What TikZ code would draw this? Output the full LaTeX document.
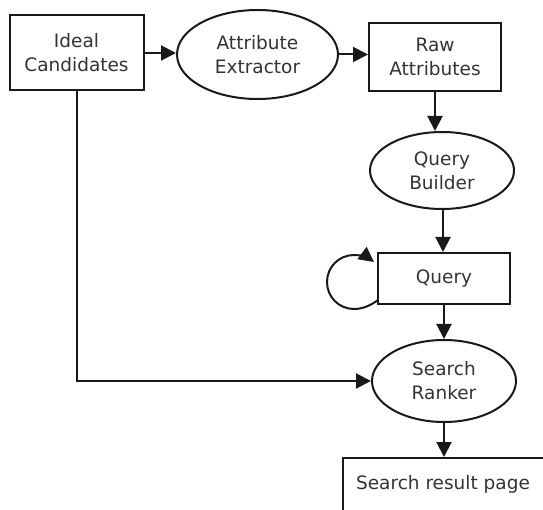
\documentclass[tikz,border=0pt]{standalone}
\usepackage{fontspec}
\setmainfont{DejaVu Sans}
\usetikzlibrary{shapes.geometric,arrows.meta}
\begin{document}
\begin{tikzpicture}[x=1pt,y=-1pt,line width=2pt,draw=black!90,
  lbl/.style={font=\fontsize{18.5}{24}\selectfont,text=black!80,align=center},
  box/.style={lbl,draw,rectangle,inner sep=0pt},
  oval/.style={lbl,draw,ellipse,inner sep=0pt},
  arr/.style={-{Triangle[length=15pt,width=15pt]}}]
\useasboundingbox (0,0) rectangle (543,510);
\clip (0,0) rectangle (543,510);
\node[box,minimum width=134pt,minimum height=75pt] (ic) at (76.5,52.5) {Ideal\\Candidates};
\node[oval,minimum width=161pt,minimum height=89pt] (ae) at (257.5,54.5) {Attribute\\Extractor};
\node[box,minimum width=132pt,minimum height=68pt] (ra) at (435,57) {Raw\\Attributes};
\node[oval,minimum width=144pt,minimum height=77pt] (qb) at (442,170.5) {Query\\Builder};
\node[box,minimum width=132pt,minimum height=51pt] (q) at (444,278.5) {Query};
\node[oval,minimum width=144pt,minimum height=82pt] (sr) at (444,381) {Search\\Ranker};
\node[box,overlay,anchor=north west,minimum width=240pt,minimum height=80pt] (srp) at (342,457) {};
\node[lbl] (srpt) at (443,484) {Search result page};
\coordinate (ls) at (378,300);
\coordinate (le) at (374,262);
\draw[arr] (ic.east |- 0,53) -- (ae.west |- 0,53);
\draw[arr] (ae.east) -- (ra.west |- ae.east);
\draw[arr] (ra.south) -- (ra.south |- qb.north);
\draw[arr] (qb.south -| 443,0) -- (q.north -| 443,0);
\draw[arr] (q.south) -- (sr.north);
\draw[arr] (ic.south) |- (sr.west);
\draw[arr] (sr.south) -- (sr.south |- srp.north);
\draw[arr] (ls) .. controls (370,306) and (362,309) .. (354,309)
  .. controls (339,309) and (327,297) .. (327,282)
  .. controls (327,267) and (339,255) .. (354,255)
  .. controls (361,255) and (368,257.5) .. (le);
\end{tikzpicture}
\end{document}
